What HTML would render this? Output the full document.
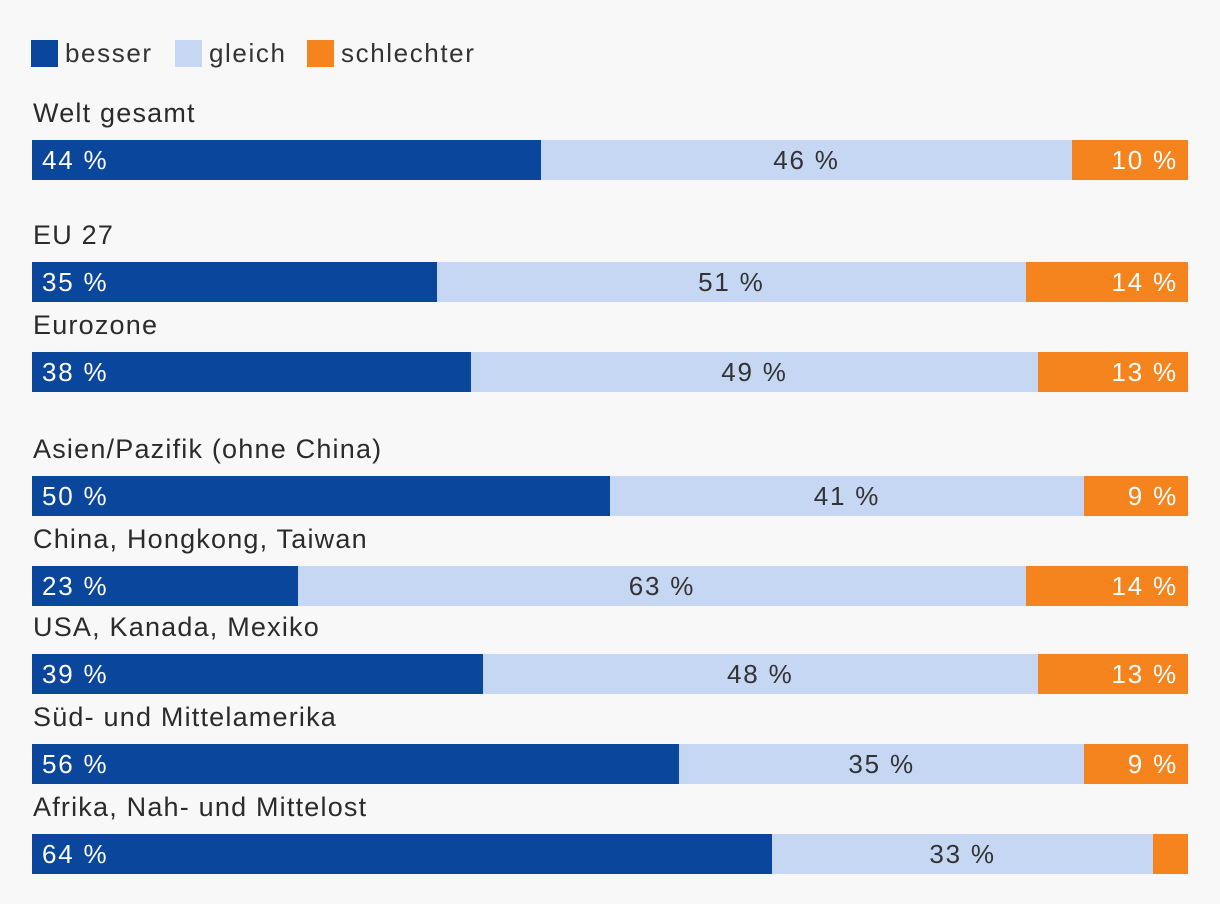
<!DOCTYPE html>
<html><head><meta charset="utf-8">
<style>
body{margin:0;background:#f8f8f8;font-family:"Liberation Sans",sans-serif;}
#wrap{position:relative;width:1220px;height:904px;background:#f8f8f8;overflow:hidden}
.lg{position:absolute;top:38px;height:30px;display:flex;align-items:center;font-size:26px;color:#333;letter-spacing:1.6px}
.sw{width:27px;height:27px;margin-right:7px}
.lbl{position:absolute;left:33px;font-size:27px;color:#2b2b2b;white-space:nowrap;letter-spacing:1.2px}
.seg{position:absolute;height:40px;display:flex;align-items:center;font-size:26px;box-sizing:border-box;letter-spacing:1.8px;white-space:nowrap}
</style></head><body>
<div id="wrap">
<div class="lg" style="left:31px"><div class="sw" style="background:#0a469c"></div>besser</div>
<div class="lg" style="left:175px"><div class="sw" style="background:#c5d7f3"></div>gleich</div>
<div class="lg" style="left:307px"><div class="sw" style="background:#f5841f"></div>schlechter</div>
</div>
<script>
const categories=["Welt gesamt","EU 27","Eurozone","Asien/Pazifik (ohne China)","China, Hongkong, Taiwan","USA, Kanada, Mexiko","Süd- und Mittelamerika","Afrika, Nah- und Mittelost"];
const besser=[44,35,38,50,23,39,56,64];
const gleich=[46,51,49,41,63,48,35,33];
const schlechter=[10,14,13,9,14,13,9,3];
const showSchlechter=[true,true,true,true,true,true,true,false];
const barTops=[140,262,352,476,566,654,744,834];
const X0=32,W=1156;
const x=v=>X0+v/100*W;
const wrap=document.getElementById('wrap');
const colors=['#0a469c','#c5d7f3','#f5841f'];
const names=['besser','gleich','schlechter'];
categories.forEach((c,i)=>{
  const t=barTops[i];
  const l=document.createElement('div');
  l.className='lbl';l.style.top=(t-42)+'px';l.textContent=c;
  
  
  wrap.appendChild(l);
  const vals=[besser[i],gleich[i],schlechter[i]];
  let acc=0;
  vals.forEach((v,k)=>{
    const s=document.createElement('div');
    s.className='seg';
    const a=x(acc),b=k==2?X0+W:x(acc+v);
    s.style.left=a+'px';s.style.width=(b-a)+'px';s.style.top=t+'px';
    s.style.background=colors[k];
    if(k==0){s.style.color='#fff';s.style.paddingLeft='10px';}
    if(k==1){s.style.color='#333';s.style.justifyContent='center';}
    if(k==2){s.style.color='#fff';s.style.justifyContent='flex-end';s.style.paddingRight='10px';}
    if(k!=2||showSchlechter[i]) s.textContent=v+' %';
    
    
    wrap.appendChild(s);
    acc+=v;
  });
});
</script>
</body></html>
